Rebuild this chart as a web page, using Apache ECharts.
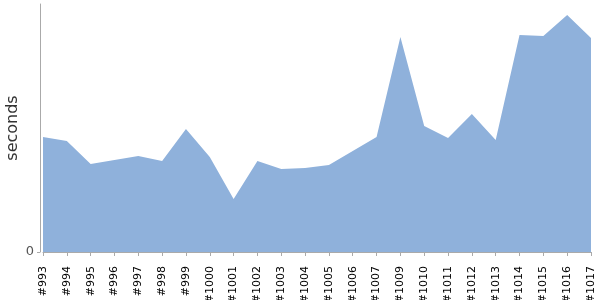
<!DOCTYPE html>
<html><head><meta charset="utf-8">
<script src="https://cdn.jsdelivr.net/npm/echarts@6/dist/echarts.min.js"></script>
<style>html,body{margin:0;padding:0;background:#fff}#c{width:600px;height:300px}</style>
</head><body><div id="c"></div>
<script>
var builds = ['#993','#994','#995','#996','#997','#998','#999','#1000','#1001','#1002','#1003','#1004','#1005','#1006','#1007','#1009','#1010','#1011','#1012','#1013','#1014','#1015','#1016','#1017'];
var seconds = [115,111,88,92,96,91,123,95,53,91,83,84,87,101,115,215,126,114,138,112,217,216,237,214];
var yTicks = [0];
var yMax = 248;

var chart = echarts.init(document.getElementById('c'), null, {renderer:'canvas'});
chart.setOption({
  animation:false,
  grid:{left:43,right:9,top:4,bottom:48,containLabel:false,outerBoundsMode:'none'},
  xAxis:{
    type:'category', data:builds, boundaryGap:false,
    axisLine:{lineStyle:{color:'#aaaaaa'}},
    axisTick:{length:4,lineStyle:{color:'#aaaaaa'}},
    axisLabel:{rotate:90,margin:14,fontFamily:'DejaVu Sans',fontSize:11,color:'#000'}
  },
  yAxis:{
    type:'value', min:0, max:yMax, offset:3,
    name:'seconds', nameLocation:'middle', nameGap:19, nameMoveOverlap:false,
    nameTextStyle:{fontFamily:'DejaVu Sans',fontSize:16,color:'#333'},
    axisLine:{show:true,lineStyle:{color:'#aaaaaa'}},
    axisTick:{show:true,length:3,customValues:yTicks,lineStyle:{color:'#aaaaaa'}},
    splitLine:{show:false},
    axisLabel:{fontFamily:'DejaVu Sans',fontSize:13,color:'#555',margin:6,customValues:yTicks}
  },
  series:[{
    type:'line', data:seconds, symbol:'none',
    lineStyle:{width:0},
    areaStyle:{color:'#8fb1db',opacity:1}
  }]
});
</script></body></html>
